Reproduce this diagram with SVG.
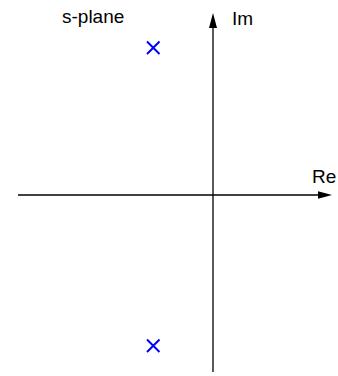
<svg xmlns="http://www.w3.org/2000/svg" width="338" height="376" viewBox="0 0 338 376">
<style>
.lbl{font-family:"Liberation Sans",Arial,sans-serif;font-size:19px;fill:#000}
.axis{stroke:#000;stroke-width:1.3;fill:none}
.pole{stroke:#0000ff;stroke-width:2;fill:none}
</style>
<rect width="338" height="376" fill="#fff"/>
<g id="connectors">
<line class="axis" x1="18" y1="195" x2="320" y2="195"/>
<polygon points="332,195 318,191.3 318,198.7" fill="#000"/>
<line class="axis" x1="213" y1="372" x2="213" y2="27"/>
<polygon points="213,13 209,28 217,28" fill="#000"/>
</g>
<g id="title"><text class="lbl" x="62" y="23">s-plane</text></g>
<g id="im"><text class="lbl" x="232" y="25">Im</text></g>
<g id="re"><text class="lbl" x="312" y="183">Re</text></g>
<g id="pole1"><path class="pole" d="M147,41.5 L159.5,54 M159.5,41.5 L147,54"/></g>
<g id="pole2"><path class="pole" d="M147,339.5 L159.5,352 M159.5,339.5 L147,352"/></g>
</svg>
